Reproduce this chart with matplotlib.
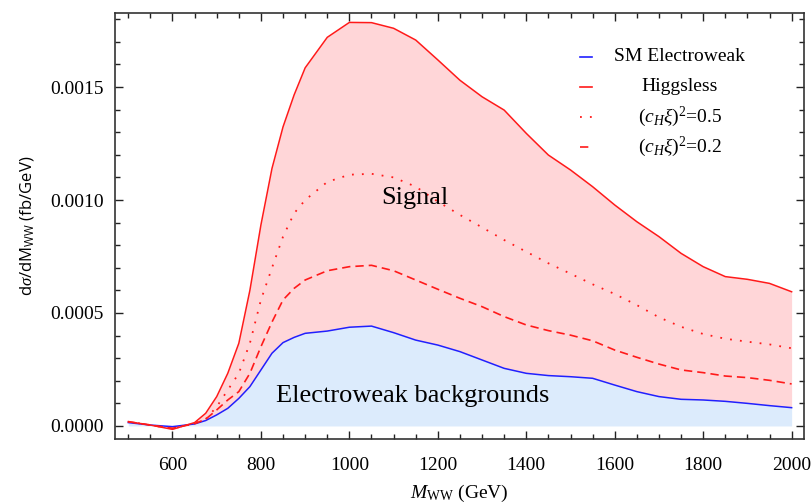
import matplotlib
matplotlib.use("Agg")
import matplotlib.pyplot as plt
from matplotlib.lines import Line2D
from matplotlib.ticker import MultipleLocator, FormatStrFormatter

plt.rcParams["mathtext.fontset"] = "custom"
plt.rcParams["mathtext.rm"] = "Liberation Serif"
plt.rcParams["mathtext.it"] = "Liberation Serif:italic"
plt.rcParams["mathtext.bf"] = "Liberation Serif:bold"
plt.rcParams["mathtext.sf"] = "Open Sans"

# WW invariant mass (GeV)
m_ww = [500, 550, 600, 650, 675, 700, 725, 750, 775, 800, 825, 850, 875,
        900, 950, 1000, 1050, 1100, 1150, 1200, 1250, 1300, 1350, 1400,
        1450, 1500, 1550, 1600, 1650, 1700, 1750, 1800, 1850, 1900, 1950,
        2000]

# dsigma/dM_WW (fb/GeV)
sm_ew = [0.000015, 0.000004, -0.000003, 0.000009, 0.000024, 0.000049,
         0.000078, 0.000122, 0.000174, 0.000248, 0.000322, 0.000369,
         0.000392, 0.000410, 0.000420, 0.000437, 0.000442, 0.000413,
         0.000380, 0.000358, 0.000329, 0.000292, 0.000255, 0.000233,
         0.000223, 0.000218, 0.000211, 0.000181, 0.000152, 0.000130,
         0.000118, 0.000115, 0.000109, 0.000100, 0.000090, 0.000081]
higgsless = [0.000019, 0.000004, -0.000015, 0.000015, 0.000056, 0.000130,
             0.000233, 0.000366, 0.000600, 0.000890, 0.001140, 0.001324,
             0.001465, 0.001585, 0.001720, 0.001786, 0.001785, 0.001760,
             0.001708, 0.001620, 0.001530, 0.001457, 0.001398, 0.001295,
             0.001199, 0.001133, 0.001059, 0.000978, 0.000904, 0.000838,
             0.000764, 0.000705, 0.000661, 0.000649, 0.000631, 0.000594]
ch_05 = [0.000019, 0.000004, -0.000012, 0.000012, 0.000030, 0.000085,
         0.000159, 0.000233, 0.000366, 0.000558, 0.000700, 0.000838,
         0.000941, 0.001000, 0.001080, 0.001112, 0.001116, 0.001100,
         0.001059, 0.000993, 0.000934, 0.000879, 0.000823, 0.000771,
         0.000720, 0.000674, 0.000627, 0.000584, 0.000535, 0.000481,
         0.000439, 0.000407, 0.000386, 0.000373, 0.000361, 0.000344]
ch_02 = [0.000019, 0.000004, -0.000010, 0.000010, 0.000030, 0.000071,
         0.000115, 0.000152, 0.000233, 0.000351, 0.000460, 0.000558,
         0.000609, 0.000646, 0.000687, 0.000705, 0.000711, 0.000687,
         0.000646, 0.000605, 0.000565, 0.000528, 0.000484, 0.000447,
         0.000422, 0.000402, 0.000377, 0.000336, 0.000304, 0.000274,
         0.000248, 0.000236, 0.000221, 0.000214, 0.000202, 0.000186]

legend_labels = ["SM Electroweak", "Higgsless",
                 r"$(c_H\xi)^2$=0.5", r"$(c_H\xi)^2$=0.2"]

RED = "#ff1a1a"
BLUE = "#2020ff"
PINK = "#ffd6d8"
SKY = "#dcebfc"
SERIF = "Liberation Serif"

fig = plt.figure(figsize=(8.12, 5.04), dpi=100)
W, H = 812, 504
ax = fig.add_axes([115 / W, 1 - 439.3 / H, (804 - 115) / W, (439.3 - 12.7) / H])

# shaded regions: background under SM, signal between SM and Higgsless
ax.fill_between(m_ww, 0, sm_ew, color=SKY, lw=0, zorder=1)
ax.fill_between(m_ww, sm_ew, higgsless, color=PINK, lw=0, zorder=1)

ax.plot(m_ww, sm_ew, color=BLUE, lw=1.1, zorder=3, solid_joinstyle="round")
ax.plot(m_ww, higgsless, color=RED, lw=1.1, zorder=3, solid_joinstyle="round")
ax.plot(m_ww, ch_05, color=RED, lw=1.3, dashes=(1, 4.5), zorder=3)
ax.plot(m_ww, ch_02, color=RED, lw=1.2, dashes=(5, 3), zorder=3)

ax.set_xlim(470, 2028)
ax.set_ylim(-0.000059, 0.001829)

ax.xaxis.set_major_locator(MultipleLocator(200))
ax.xaxis.set_minor_locator(MultipleLocator(50))
ax.yaxis.set_major_locator(MultipleLocator(0.0005))
ax.yaxis.set_minor_locator(MultipleLocator(0.0001))
ax.yaxis.set_major_formatter(FormatStrFormatter("%.4f"))
ax.set_xticks([600, 800, 1000, 1200, 1400, 1600, 1800, 2000])

ax.tick_params(which="both", direction="in", top=True, right=True,
               color="#222222", width=1.0)
ax.tick_params(which="major", length=6, labelsize=14)
ax.tick_params(which="minor", length=3.5)
ax.tick_params(axis="x", which="major", pad=13)
ax.tick_params(axis="y", which="major", pad=8)
for lab in ax.get_xticklabels() + ax.get_yticklabels():
    lab.set_fontfamily(SERIF)
for s in ax.spines.values():
    s.set_color("#333333")
    s.set_linewidth(1.2)

ax.set_xlabel(r"$M_{\rm WW}$ (GeV)", fontsize=14, fontfamily=SERIF, labelpad=6)
ax.set_ylabel(r"d$\sigma$/dM$_{\mathsf{WW}}$ (fb/GeV)", fontsize=12,
              fontfamily="Open Sans", labelpad=10)

ax.text(1148, 0.00101, "Signal", fontsize=19, fontfamily=SERIF,
        ha="center", va="center", zorder=4)
ax.text(1144, 0.000133, "Electroweak backgrounds", fontsize=19,
        fontfamily=SERIF, ha="center", va="center", zorder=4)

# legend drawn as short handles with centred labels
styles = [dict(color=BLUE, lw=1.2),
          dict(color=RED, lw=1.2),
          dict(color=RED, lw=1.3, dashes=(1, 4.5)),
          dict(color=RED, lw=1.2, dashes=(5, 3))]
rows_px = [56.7, 86.7, 116.5, 146.5]
for label, st, ypx in zip(legend_labels, styles, rows_px):
    yf = 1 - ypx / H
    fig.add_artist(Line2D([580 / W, 592 / W], [yf, yf], **st))
    fig.text(680 / W, yf, label, fontsize=14, fontfamily=SERIF,
             ha="center", va="center")

fig.savefig("out.png", dpi=100)
